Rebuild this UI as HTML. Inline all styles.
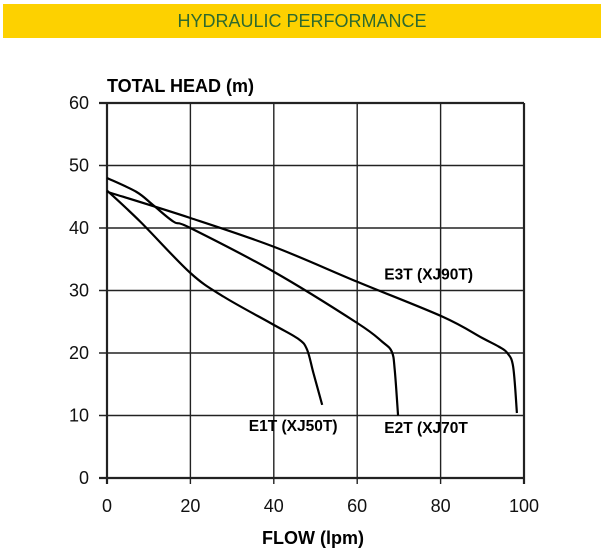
<!DOCTYPE html>
<html><head><meta charset="utf-8"><style>
body{margin:0;background:#fff;width:605px;height:557px;overflow:hidden;font-family:"Liberation Sans",sans-serif}
</style></head><body>
<div style="position:absolute;left:3px;top:4px;width:598px;height:34px;background:#fdd100;color:#2e6a2e;font-size:18px;text-align:center;line-height:34px">HYDRAULIC PERFORMANCE</div>
<svg id="chart" width="605" height="557" style="position:absolute;left:0;top:0"></svg>
<script>
const xTicks=[0,20,40,60,80,100];
const yTicks=[0,10,20,30,40,50,60];
const seriesNames=["E1T (XJ50T)","E2T (XJ70T","E3T (XJ90T)"];
const e1Flow=[0,8,20,28,40,46,48,49.5,51.6];
const e1Head=[46,41,32.8,29,24.5,22.2,20.5,16.8,11.7];
const e2Flow=[0,7,11,16,20,40,60,66,68.3,69,69.8];
const e2Head=[48,45.8,43.7,41,40,33,24.8,21.8,20.2,17.3,10];
const e3Flow=[0,20,40,60,80.5,90,94,96,97.4,98.3];
const e3Head=[45.8,41.6,37,31.4,25.8,22.4,21,20,17.8,10.4];
const labelPos=[[34,7.5],[66.5,7.2],[66.5,31.8]];
const svg=document.getElementById('chart');const NS='http://www.w3.org/2000/svg';
const X=v=>107+v*4.17, Y=v=>478-v*6.25;
function mk(t,a,p){const e=document.createElementNS(NS,t);for(const k in a)e.setAttribute(k,a[k]);(p||svg).appendChild(e);return e;}
xTicks.forEach(v=>{const l=mk('line',{x1:X(v),x2:X(v),y1:Y(60),y2:Y(0)+6,stroke:'#222','stroke-width':v===0||v===100?2.2:1.4});

const t=mk('text',{x:X(v),y:512,'text-anchor':'middle','font-size':18,fill:'#111'});t.textContent=v;
});
yTicks.forEach(v=>{const l=mk('line',{x1:X(0)-8,x2:X(100),y1:Y(v),y2:Y(v),stroke:'#222','stroke-width':v===0||v===60?2.2:1.4});

const t=mk('text',{x:89,y:Y(v)+6,'text-anchor':'end','font-size':18,fill:'#111'});t.textContent=v;
});
function smooth(pts){let d='M'+pts[0].join(',');
for(let i=0;i<pts.length-1;i++){const p0=pts[Math.max(0,i-1)],p1=pts[i],p2=pts[i+1],p3=pts[Math.min(pts.length-1,i+2)];
const c1=[p1[0]+(p2[0]-p0[0])/6,p1[1]+(p2[1]-p0[1])/6],c2=[p2[0]-(p3[0]-p1[0])/6,p2[1]-(p3[1]-p1[1])/6];
d+=' C'+c1.join(',')+' '+c2.join(',')+' '+p2.join(',');}return d;}
[[e1Flow,e1Head],[e2Flow,e2Head],[e3Flow,e3Head]].forEach((s,i)=>{
const pts=s[0].map((f,j)=>[X(f),Y(s[1][j])]);
const p=mk('path',{d:smooth(pts),fill:'none',stroke:'#000','stroke-width':2.2,'stroke-linejoin':'round'});

const t=mk('text',{x:X(labelPos[i][0]),y:Y(labelPos[i][1]),'font-size':15.5,'font-weight':'bold',fill:'#000'});t.textContent=seriesNames[i];
});
const yt=mk('text',{x:107,y:92,'font-size':18,'font-weight':'bold'});yt.textContent='TOTAL HEAD (m)';

const xt=mk('text',{x:313,y:544,'text-anchor':'middle','font-size':18,'font-weight':'bold'});xt.textContent='FLOW (lpm)';

</script>
</body></html>
